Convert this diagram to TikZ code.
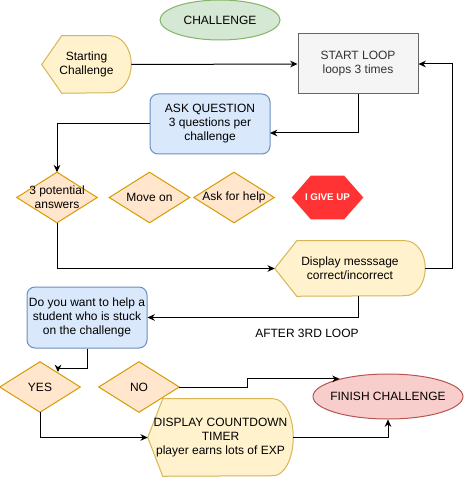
\documentclass[tikz,border=0pt]{standalone}
\usepackage{fontspec}
\setmainfont{Liberation Sans}
\usetikzlibrary{shapes.geometric,arrows.meta,backgrounds}

\definecolor{greenfill}{HTML}{D5E8D4}
\definecolor{greenline}{HTML}{82B366}
\definecolor{yellowfill}{HTML}{FFF2CC}
\definecolor{yellowline}{HTML}{D6B656}
\definecolor{greyfill}{HTML}{F5F5F5}
\definecolor{greyline}{HTML}{666666}
\definecolor{greytext}{HTML}{333333}
\definecolor{bluefill}{HTML}{DAE8FC}
\definecolor{blueline}{HTML}{6C8EBF}
\definecolor{orangefill}{HTML}{FFE6CC}
\definecolor{orangeline}{HTML}{D79B00}
\definecolor{giveupred}{HTML}{FF3333}
\definecolor{pinkfill}{HTML}{F8CECC}
\definecolor{pinkline}{HTML}{B85450}

% display shape: pointed left end, rounded right end
\newcommand{\dispshape}[4]{%
  \draw[yellowbox] (#1.west) -- ([xshift=#2]#1.north west) -- ([xshift=-#3]#1.north east)
    arc[start angle=90, end angle=-90, x radius=#3, y radius=#4]
    -- ([xshift=#2]#1.south west) -- cycle;}

\begin{document}
\begin{tikzpicture}[x=0.75pt,y=0.75pt,
  every node/.style={inner sep=0pt, align=center, font=\fontsize{9}{10.5}\selectfont},
  conn/.style={draw=black, line width=0.75pt, -{Stealth[length=5.5pt,width=5pt]}},
  yellowbox/.style={draw=yellowline, fill=yellowfill, line width=0.75pt},
  diabox/.style={draw=orangeline, fill=orangefill, line width=0.75pt},
  dianode/.style={minimum width=60pt, minimum height=37.5pt}]
\useasboundingbox (0,0) rectangle (464,-477);

% nodes
\node [ellipse, draw=greenline, fill=greenfill, line width=0.75pt,
  minimum width=90pt, minimum height=30pt] (title) at (220,-20) {CHALLENGE};
\node [minimum width=66.75pt, minimum height=42.75pt] (start) at (86.5,-64.5) {Starting\\Challenge};
\node [draw=greyline, fill=greyfill, text=greytext, line width=0.75pt,
  minimum width=90pt, minimum height=45pt] (loop) at (358,-64) {START LOOP\\loops 3 times};
\node [draw=blueline, fill=bluefill, rounded corners=6pt, line width=0.75pt,
  minimum width=90pt, minimum height=45pt] (ask) at (210,-124) {ASK QUESTION\\3 questions per\\challenge};
\node [dianode] (ans) at (57,-197.5) {3 potential\\answers};
\node [dianode] (moveon) at (149.5,-197.5) {Move on};
\node [dianode] (askhelp) at (234,-197.5) {Ask for help};
\node [minimum width=53.25pt, minimum height=32.25pt, text=white,
  font=\fontsize{7.3}{8.5}\selectfont\bfseries] (giveup) at (327.5,-197.5) {I GIVE UP};
\node [minimum width=112.5pt, minimum height=41.25pt] (disp) at (350,-268.5) {Display messsage\\correct/incorrect};
\node [draw=blueline, fill=bluefill, rounded corners=6pt, line width=0.75pt,
  minimum width=90pt, minimum height=45.75pt] (help) at (87,-317.5) {Do you want to help a\\student who is stuck\\on the challenge};
\node (afterlbl) at (307,-333) {AFTER 3RD LOOP};
\node [dianode] (yes) at (40,-387) {YES};
\node [dianode] (no) at (139,-387) {NO};
\node [ellipse, draw=pinkline, fill=pinkfill, line width=0.75pt, inner xsep=-6pt,
  minimum width=112.5pt, minimum height=33.75pt] (finish) at (388,-396.5) {FINISH CHALLENGE};
\node [minimum width=108.75pt, minimum height=57.75pt] (cd) at (220.5,-437.5) {DISPLAY COUNTDOWN\\TIMER\\player earns lots of EXP};

% outlines behind the texts
\begin{scope}[on background layer]
\foreach \n in {ans,moveon,askhelp,yes,no}
  \draw [diabox] (\n.north) -- (\n.east) -- (\n.south) -- (\n.west) -- cycle;
\dispshape{start}{15pt}{15.75pt}{21.375pt}
\dispshape{disp}{16.5pt}{15pt}{20.625pt}
\dispshape{cd}{11.25pt}{15pt}{28.875pt}
\fill [giveupred] (giveup.west) -- ([xshift=14.25pt]giveup.north west) -- ([xshift=-14.25pt]giveup.north east)
  -- (giveup.east) -- ([xshift=-14.25pt]giveup.south east) -- ([xshift=14.25pt]giveup.south west) -- cycle;
\end{scope}

% connectors
\coordinate (askin) at (270,-133);
\coordinate (yesbend) at (58,-368);
\draw [conn] (start.east) -- (loop.west);
\draw [conn] (disp.east) -- ++(27,0) |- (loop.east);
\draw [conn] (loop.south) |- (askin);
\draw [conn] (ask.west) -| (ans.north);
\draw [conn] (ans.south) |- (disp.west);
\draw [conn] ([xshift=6pt]disp.south) |- (help.east);
\draw [conn] (help.south) |- (yesbend) -- ++(0,-4);
\draw [conn] (no.east) -- ++(68,0) |- (finish.160);
\draw [conn] (yes.south) |- (cd.west);
\draw [conn] (cd.east) -| (finish.south);
\end{tikzpicture}
\end{document}
